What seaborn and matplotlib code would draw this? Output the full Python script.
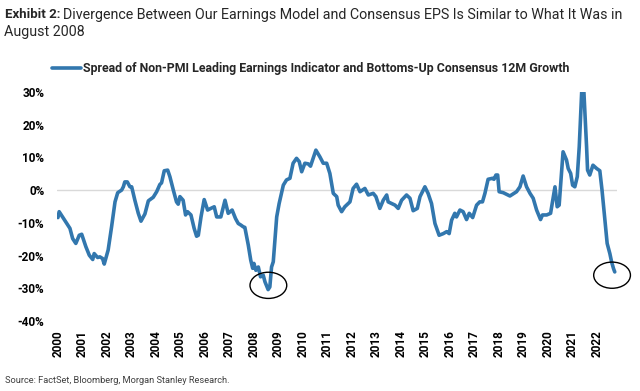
import pandas as pd
import matplotlib.pyplot as plt
import seaborn as sns
from matplotlib.patches import Ellipse
from matplotlib.ticker import FuncFormatter

sns.set_theme(style="white")
plt.rcParams['font.family'] = ['Roboto', 'DejaVu Sans']

# decimal years and spread (%)
years = [
    2000.00, 2000.05, 2000.49, 2000.60, 2000.73, 2000.87, 2000.97, 2001.14, 2001.28, 2001.42,
    2001.48, 2001.62, 2001.71, 2001.82, 2001.89, 2002.05, 2002.19, 2002.33, 2002.44, 2002.60,
    2002.67, 2002.73, 2002.83, 2002.94, 2003.01, 2003.14, 2003.28, 2003.39, 2003.55, 2003.69,
    2003.76, 2003.89, 2004.03, 2004.16, 2004.23, 2004.34, 2004.48, 2004.57, 2004.71, 2004.84,
    2004.91, 2004.98, 2005.11, 2005.21, 2005.29, 2005.43, 2005.56, 2005.66, 2005.73, 2005.84,
    2005.97, 2006.11, 2006.24, 2006.38, 2006.48, 2006.65, 2006.82, 2006.95, 2007.11, 2007.25,
    2007.36, 2007.47, 2007.56, 2007.63, 2007.77, 2007.87, 2007.95, 2008.00, 2008.08, 2008.18,
    2008.27, 2008.38, 2008.45, 2008.58, 2008.65, 2008.72, 2008.79, 2008.93, 2009.03, 2009.20,
    2009.33, 2009.47, 2009.60, 2009.74, 2009.85, 2009.95, 2010.08, 2010.22, 2010.31, 2010.53,
    2010.69, 2010.83, 2010.97, 2011.10, 2011.24, 2011.38, 2011.44, 2011.58, 2011.71, 2011.92,
    2012.05, 2012.19, 2012.33, 2012.53, 2012.67, 2012.87, 2012.98, 2013.14, 2013.28, 2013.42,
    2013.48, 2013.62, 2013.76, 2013.89, 2014.03, 2014.23, 2014.37, 2014.50, 2014.67, 2014.78,
    2014.98, 2015.11, 2015.25, 2015.39, 2015.56, 2015.73, 2015.87, 2015.97, 2016.07, 2016.20,
    2016.27, 2016.41, 2016.54, 2016.68, 2016.79, 2016.93, 2017.09, 2017.22, 2017.33, 2017.43,
    2017.56, 2017.74, 2017.80, 2017.88, 2017.95, 2018.01, 2018.18, 2018.45, 2018.72, 2018.86,
    2018.99, 2019.13, 2019.27, 2019.40, 2019.54, 2019.70, 2019.78, 2019.95, 2020.11, 2020.29,
    2020.38, 2020.46, 2020.62, 2020.76, 2020.83, 2020.93, 2021.01, 2021.10, 2021.20, 2021.28,
    2021.38, 2021.47, 2021.58, 2021.62, 2021.71, 2021.84, 2021.99, 2022.12, 2022.21, 2022.33,
    2022.42, 2022.53, 2022.60, 2022.68, 2022.73,
]
spread = [
    -8.4, -6.6, -11.7, -14.8, -16.3, -13.8, -13.5, -17.3, -19.9, -21.2,
    -19.4, -20.6, -20.4, -20.9, -22.6, -18.3, -11.2, -3.6, -0.8, 0.0,
    1.0, 2.5, 2.5, 1.0, 1.0, -3.1, -7.1, -9.5, -7.3, -3.3,
    -2.9, -2.2, -0.5, 1.7, 2.2, 5.9, 6.1, 4.1, 0.0, -3.6,
    -4.3, -2.0, -3.1, -7.6, -6.6, -7.6, -11.7, -14.1, -13.8, -8.2,
    -2.9, -6.1, -5.6, -5.1, -8.2, -8.2, -3.1, -7.1, -6.1, -8.7,
    -10.2, -10.7, -11.2, -11.4, -16.8, -21.4, -23.9, -22.4, -24.5, -23.5,
    -26.5, -26.0, -28.0, -30.4, -29.6, -23.5, -21.9, -8.2, -4.1, 1.5,
    3.1, 3.6, 8.2, 9.7, 8.7, 5.6, 8.2, 8.0, 7.3, 12.2,
    10.2, 8.2, 8.2, 5.1, -1.0, -2.0, -4.6, -6.6, -5.1, -3.6,
    0.5, 1.8, -0.5, 0.5, -1.5, -1.0, -2.0, -5.6, -3.1, -1.5,
    -3.6, -4.1, -4.6, -5.6, -3.1, -1.5, -2.5, -6.3, -5.6, -2.0,
    1.0, -1.0, -4.1, -10.2, -13.8, -13.3, -12.7, -13.3, -9.2, -7.1,
    -8.2, -6.1, -6.6, -9.0, -7.1, -8.4, -4.6, -3.6, -3.6, -1.0,
    3.3, 3.6, 3.3, 4.6, 4.6, -0.5, -0.8, -1.8, -0.5, 1.0,
    4.3, 1.0, -1.0, -2.5, -6.1, -9.0, -7.6, -7.6, -7.1, 1.0,
    -5.1, -4.6, 11.7, 9.2, 6.6, 5.1, 1.5, 1.0, 4.1, 13.2,
    30.0, 30.0, 13.2, 6.1, 4.6, 7.6, 6.6, 5.9, 0.0, -9.2,
    -16.3, -19.4, -21.9, -24.0, -25.0,
]
year_ticks = list(range(2000, 2023))
y_ticks = [-40, -30, -20, -10, 0, 10, 20, 30]

# circled points: (centre year, centre value)
circles = [(2008.59, -29.1), (2022.62, -26.0)]

series_name = "Spread of Non-PMI Leading Earnings Indicator and Bottoms-Up Consensus 12M Growth"
df = pd.DataFrame({"year": years, "spread": spread})

fig = plt.figure(figsize=(6.4, 3.91), dpi=100)
ax = fig.add_axes([0.089, 0.179, 0.875, 0.586])

ax.axhline(0, color="#d9d9d9", lw=1, zorder=1)
sns.lineplot(data=df, x="year", y="spread", color="#3277ae", lw=2.6,
             label=series_name, ax=ax, zorder=3)

for cx, cy in circles:
    ax.add_patch(Ellipse((cx, cy), 1.5, 8.0, fill=False, ec="black", lw=1,
                         clip_on=False, zorder=4))

ax.set_xlim(1999.96, 2022.82)
ax.set_ylim(-40, 30)
ax.set_xticks(year_ticks)
ax.set_xticklabels([str(y) for y in year_ticks], rotation=90, fontsize=8.5,
                   fontweight="bold", color="black")
ax.set_yticks(y_ticks)
ax.yaxis.set_major_formatter(FuncFormatter(lambda v, p: f"{v:.0f}%"))
for lab in ax.get_yticklabels():
    lab.set_fontweight("bold")
    lab.set_fontsize(8.5)
    lab.set_color("black")
ax.tick_params(axis="x", length=0, pad=6.5)
ax.tick_params(axis="y", length=0, pad=9)
ax.set_xlabel("")
ax.set_ylabel("")
sns.despine(ax=ax, left=True, bottom=True)
ax.grid(False)

ax.legend(loc="center", bbox_to_anchor=(0.486, 0.824), bbox_transform=fig.transFigure,
          frameon=False, handlelength=2.3, handletextpad=0.2,
          prop={"weight": "bold", "size": 8.9})

fig.text(0.008, 0.962, "Exhibit 2:", fontsize=9.5, fontweight="bold", va="center")
fig.text(0.099, 0.962, "Divergence Between Our Earnings Model and Consensus EPS Is Similar to What It Was in",
         fontsize=10.3, va="center")
fig.text(0.006, 0.918, "August 2008", fontsize=10.3, va="center")
fig.text(0.008, 0.026, "Source: FactSet, Bloomberg, Morgan Stanley Research.",
         fontsize=6.7, color="#404040", va="center")

fig.savefig("out.png", dpi=100)
